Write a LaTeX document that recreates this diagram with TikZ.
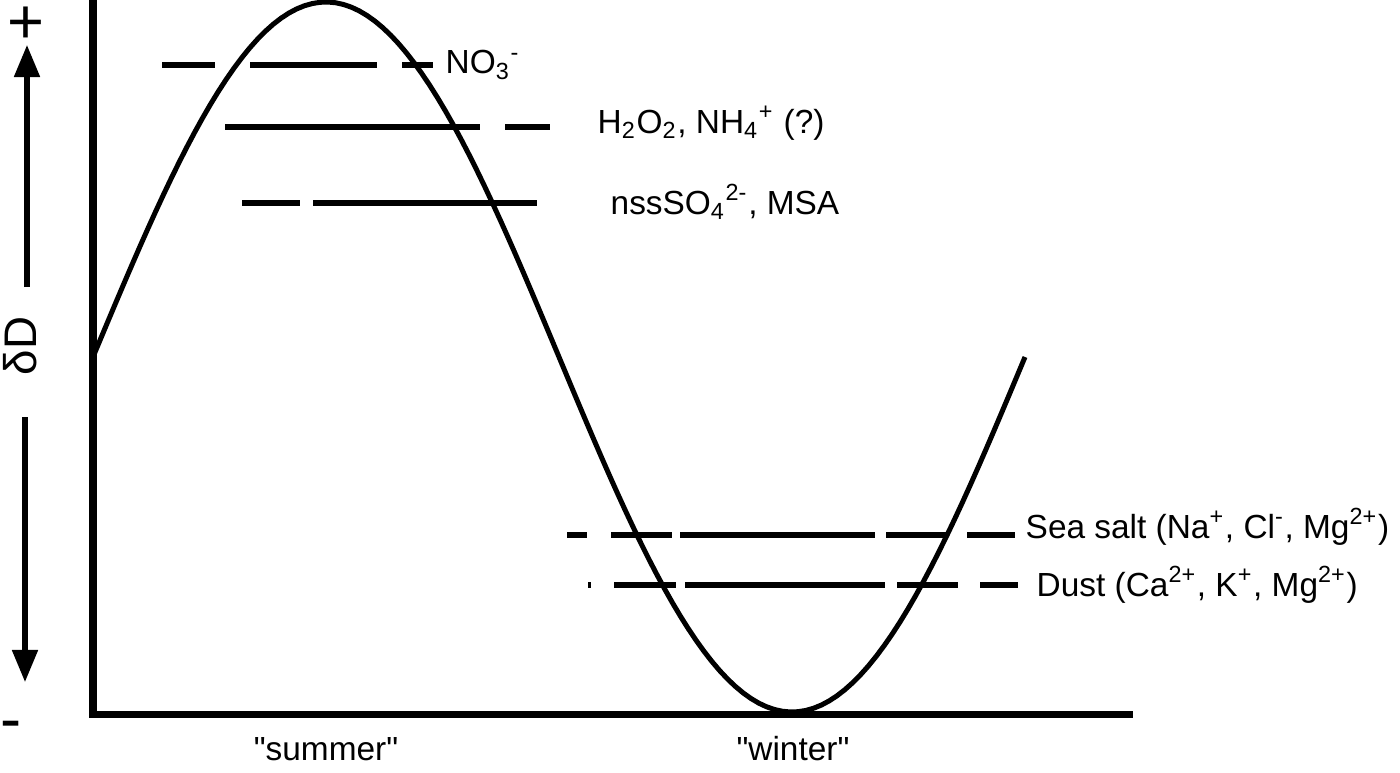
\documentclass[tikz,border=0pt]{standalone}
\usepackage{fontspec}
\setmainfont{Liberation Sans}
\newfontfamily\plainsans{Liberation Sans}
\usetikzlibrary{arrows.meta}

\begin{document}
\begin{tikzpicture}[
    x = 0.01cm, y = -0.01cm,
    every node/.style = {font = \fontsize{9.5}{11}\selectfont, inner sep = 0pt},
    lbl/.style = {anchor = west},
    axis/.style = {line width = 0.7mm},
    curve/.style = {line width = 0.5mm, line join = round},
    level/.style = {line width = 0.55mm},
    yarrow/.style = {line width = 0.5mm, -{Triangle[width = 2.5mm, length = 3.2mm]}},
    sign/.style = {font = \fontsize{18}{22}\selectfont, anchor = base}]

\useasboundingbox (0,0) rectangle (1400,773);

% axes
\coordinate (top) at (93,0);
\coordinate (O) at (93,714);
\coordinate (right) at (1133,714);
\draw[axis] (top) -- (O) -- (right);

% delta D scale
\node[sign] (plus) at (26,44) {+};
\node[sign] (minus) at (11,740) {-};
\node[font = \fontsize{13}{15}\selectfont, rotate = 90, anchor = base] (dD) at (37,346) {δD};
\coordinate (uptail) at (27,287);
\coordinate (uptip) at (27,45);
\coordinate (dntail) at (25,417);
\coordinate (dntip) at (25,682);
\draw[yarrow] (uptail) -- (uptip);
\draw[yarrow] (dntail) -- (dntip);

% seasonal cycle
\draw[curve] plot[domain = 93:1025, samples = 120] (\x, {357 - 355*sin((\x - 93)/233*90)});

% species levels
\node[lbl] (no3) at (445,65) {NO\textsubscript{3}\textsuperscript{-}};
\node[lbl] (hydro) at (597,123) {H\textsubscript{2}O\textsubscript{2}, NH\textsubscript{4}\textsuperscript{+} (?)};
\node[lbl] (sulf) at (610,202) {nssSO\textsubscript{4}\textsuperscript{2-}, MSA};
\node[lbl] (seasalt) at (1025,527) {Sea salt (Na\textsuperscript{+}, Cl\textsuperscript{-}, Mg\textsuperscript{2+})};
\node[lbl] (dust) at (1036,585) {Dust (Ca\textsuperscript{2+}, K\textsuperscript{+}, Mg\textsuperscript{2+})};

\coordinate (no3a) at (162,65);
\coordinate (no3b) at (433,65);
\coordinate (hydroa) at (225,127);
\coordinate (hydrob) at (550,127);
\coordinate (sulfa) at (242,203);
\coordinate (sulfb) at (537,203);
\coordinate (seasalta) at (567,535);
\coordinate (seasaltb) at (1015,535);
\coordinate (dusta) at (588,585);
\coordinate (dustb) at (1018,585);

\draw[level, dash pattern = on 5.3mm off 3.5mm on 12.7mm off 2.5mm on 3.1mm off 10mm] (no3a) -- (no3b);
\draw[level, dash pattern = on 25.5mm off 2.5mm on 4.5mm off 10mm] (hydroa) -- (hydrob);
\draw[level, dash pattern = on 5.8mm off 1.3mm on 22.4mm off 10mm] (sulfa) -- (sulfb);
\draw[level, dash pattern = on 2mm off 2.4mm on 6.1mm off 0.8mm on 19.5mm off 1.1mm on 6.1mm off 2mm on 4.8mm off 10mm] (seasalta) -- (seasaltb);
\draw[level, dash pattern = on 0.3mm off 2.3mm on 6.2mm off 0.9mm on 20mm off 1.2mm on 6.1mm off 2.2mm on 3.8mm off 10mm] (dusta) -- (dustb);

% seasons
\node[anchor = base, font = \plainsans\fontsize{9.5}{11}\selectfont] (summer) at (326,760) {"summer"};
\node[anchor = base, font = \plainsans\fontsize{9.5}{11}\selectfont] (winter) at (793,760) {"winter"};
\end{tikzpicture}
\end{document}
